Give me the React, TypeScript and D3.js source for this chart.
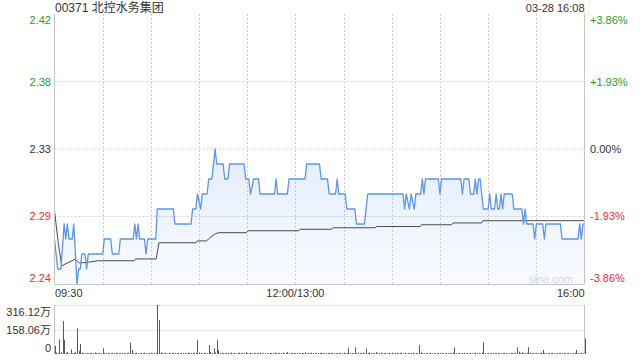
import React from "react";
import * as d3 from "d3";

const title = "00371 北控水务集团";
const stamp = "03-28 16:08";
const prevClose = 2.33;
const priceDomain = [2.24, 2.42];
const priceTickLabels = ["2.42", "2.38", "2.33", "2.29", "2.24"];
const pctTicks = [3.86, 1.93, 0, -1.93, -3.86];
const pctTickLabels = ["+3.86%", "+1.93%", "0.00%", "-1.93%", "-3.86%"];
const timeTicks = [0, 30, 60, 90, 120, 150, 180, 210, 240, 270, 300, 330];
const timeLabelMinutes = [0, 150, 330];
const timeLabels = ["09:30", "12:00/13:00", "16:00"];
const volMax = 316.12;
const volTickValues = [316.12, 158.06, 0];
const volTickLabels = ["316.12万", "158.06万", "0"];

// price line: minute index (0..330) and price
const priceMinutes = [
  0, 2, 4, 6, 7, 8, 9, 11, 12, 14, 15, 16, 17, 19, 20, 21, 30, 31, 35, 36, 40, 41,
  49, 50, 51, 52, 53, 56, 57, 58, 63, 64, 74, 75, 85, 86, 88, 89, 91, 92, 95, 96,
  98, 100, 101, 105, 106, 108, 109, 118, 119, 121, 122, 124, 127, 128, 137, 138,
  139, 145, 146, 156, 157, 165, 166, 170, 171, 175, 176, 177, 181, 182, 187, 188,
  193, 194, 195, 217, 218, 219, 221, 222, 224, 225, 228, 229, 230, 231, 239, 240,
  241, 253, 254, 255, 258, 259, 261, 262, 263, 264, 265, 267, 270, 271, 272, 274,
  275, 276, 277, 278, 279, 280, 285, 286, 291, 292, 293, 294, 298, 299, 300, 304,
  305, 306, 315, 316, 326, 327, 328, 329, 330,
];
const priceValues = [
  2.27, 2.25, 2.25, 2.28, 2.27, 2.28, 2.27, 2.27, 2.28, 2.24, 2.25, 2.25, 2.26, 2.26, 2.25, 2.26, 2.26, 2.27, 2.27, 2.26, 2.26, 2.27,
  2.27, 2.28, 2.27, 2.28, 2.27, 2.27, 2.26, 2.27, 2.27, 2.29, 2.29, 2.28, 2.28, 2.29, 2.29, 2.3, 2.29, 2.3, 2.3, 2.31,
  2.31, 2.33, 2.32, 2.32, 2.31, 2.31, 2.32, 2.32, 2.31, 2.31, 2.3, 2.31, 2.31, 2.3, 2.3, 2.31,
  2.3, 2.3, 2.31, 2.31, 2.32, 2.32, 2.31, 2.31, 2.3, 2.3, 2.31, 2.3, 2.3, 2.29, 2.29, 2.28,
  2.28, 2.29, 2.3, 2.3, 2.29, 2.3, 2.29, 2.3, 2.29, 2.3, 2.3, 2.31, 2.3, 2.31, 2.31, 2.3,
  2.31, 2.31, 2.3, 2.31, 2.31, 2.3, 2.3, 2.31, 2.3, 2.31, 2.31, 2.29, 2.29, 2.3, 2.29, 2.29,
  2.3, 2.29, 2.29, 2.3, 2.29, 2.3, 2.3, 2.29, 2.29, 2.28, 2.29, 2.28, 2.28, 2.27, 2.28, 2.28,
  2.27, 2.28, 2.28, 2.27, 2.27, 2.28, 2.27, 2.28, 2.28,
];

// average price line
const avgMinutes = [
  0, 2.4, 4.5, 7, 12.8, 15.5, 21, 27, 49.7, 50.5, 63.3, 65, 88, 89, 94.5, 96, 97.5,
  100, 102, 119.5, 120.5, 152, 153, 172.6, 173.5, 199.6, 200.5, 227.6, 228.5,
  247.3, 248.2, 265.8, 266.8, 330,
];
const avgValues = [
  2.289, 2.267, 2.252, 2.2535, 2.2565, 2.254, 2.2545, 2.2555, 2.2555, 2.2567, 2.2567, 2.2675, 2.2675, 2.2687, 2.2687, 2.27, 2.2715,
  2.2733, 2.2742, 2.2742, 2.2755, 2.2755, 2.2765, 2.2765, 2.2775, 2.2775, 2.2783, 2.2783, 2.2795,
  2.2795, 2.2807, 2.2807, 2.2822, 2.2822,
];

// per-minute volume, in 万
const volumes = [
  52, 10, 6, 95, 12, 213, 90, 8, 12, 5,
  30, 4, 6, 12, 166, 20, 65, 8, 6, 5,
  7, 4, 6, 8, 5, 9, 6, 4, 7, 5,
  37, 6, 5, 8, 4, 6, 7, 5, 9, 4,
  6, 5, 8, 6, 4, 7, 9, 73, 26, 5,
  6, 8, 4, 5, 7, 6, 9, 5, 4, 6,
  8, 5, 6, 4, 316.12, 219, 10, 6, 5, 8,
  4, 7, 6, 5, 9, 6, 4, 8, 5, 6,
  7, 4, 6, 9, 5, 6, 8, 4, 7, 90,
  10, 6, 5, 8, 6, 4, 58, 12, 7, 37,
  10, 90, 26, 6, 8, 5, 4, 7, 6, 5,
  9, 4, 6, 5, 7, 8, 4, 6, 5, 12,
  4, 6, 7, 5, 8, 4, 6, 5, 9, 6,
  4, 7, 5, 6, 8, 4, 6, 9, 5, 7,
  6, 4, 8, 5, 6, 12, 5, 4, 7, 6,
  5, 8, 4, 6, 7, 5, 12, 6, 4, 5,
  8, 6, 5, 7, 4, 6, 9, 5, 6, 4,
  7, 5, 8, 6, 4, 6, 5, 7, 4, 6,
  8, 5, 6, 37, 7, 4, 6, 43, 5, 8,
  6, 4, 7, 5, 35, 6, 9, 4, 5, 7,
  12, 6, 5, 8, 4, 6, 7, 5, 6, 4,
  8, 5, 6, 7, 4, 6, 9, 5, 6, 4,
  7, 5, 6, 8, 4, 6, 5, 58, 10, 6,
  5, 7, 4, 6, 8, 5, 6, 4, 7, 5,
  6, 8, 4, 5, 7, 6, 5, 4, 8, 43,
  6, 5, 7, 4, 6, 8, 5, 6, 4, 7,
  5, 6, 8, 4, 6, 5, 9, 75, 6, 5,
  7, 4, 6, 8, 5, 6, 4, 7, 5, 6,
  8, 5, 6, 4, 7, 6, 5, 8, 43, 15,
  6, 15, 5, 7, 6, 43, 8, 5, 6, 4,
  7, 6, 5, 8, 26, 6, 4, 7, 5, 6,
  8, 4, 6, 5, 7, 6, 4, 8, 5, 6,
  7, 5, 6, 4, 8, 26, 6, 5, 7, 5,
  101,
];

const FONT = "'Liberation Sans', Arial, 'Noto Sans CJK SC', sans-serif";
const GREEN = "#1c9e1c";
const RED = "#ee2b2b";
const DARK = "#333";
const GRID = "#cfcfcf";
const BORDER = "#c4c4c4";
const LINE = "#5b95ef";

export default function App() {
  const W = 640, H = 360;
  const L = 54.5, R = 584.5, T = 14, B = 284;
  const VT = 305, VB = 354;

  const x = d3.scaleLinear().domain([0, 330]).range([L, R]);
  const y = d3.scaleLinear().domain(priceDomain).range([B, T]);
  const v = d3.scaleLinear().domain([0, volMax]).range([VB, VT]);

  const pricePts = priceMinutes.map((m, i) => [m, priceValues[i]] as [number, number]);
  const avgPts = avgMinutes.map((m, i) => [m, avgValues[i]] as [number, number]);

  const line = d3.line<[number, number]>().x(d => x(d[0])).y(d => y(d[1]));
  const area = d3.area<[number, number]>().x(d => x(d[0])).y0(B).y1(d => y(d[1]));

  const pctY = pctTicks.map(p => y(prevClose * (1 + p / 100)));
  const labelColor = (i: number) => (pctTicks[i] > 0 ? GREEN : pctTicks[i] < 0 ? RED : DARK);
  const baseOff = (i: number, n: number) => (i === 0 ? 9.5 : i === n - 1 ? -2 : 4);

  return (
    <svg width={W} height={H} style={{ position: "absolute", left: 0, top: 0, display: "block", background: "#fff" }}
      fontFamily={FONT}>
      <defs>
        <linearGradient id="fillGrad" gradientUnits="userSpaceOnUse" x1="0" y1={y(2.33)} x2="0" y2={B}>
          <stop offset="0" stopColor={LINE} stopOpacity={0.17} />
          <stop offset="1" stopColor={LINE} stopOpacity={0.04} />
        </linearGradient>
      </defs>

      {/* title */}
      <text x={55} y={12} fontSize={12} fill={DARK}>{title}</text>
      <text x={R} y={12} fontSize={11} fill={DARK} textAnchor="end">{stamp}</text>

      {/* horizontal grid */}
      {pctY.slice(1, -1).map((gy, i) => (
        <line key={"h" + i} x1={L} x2={R} y1={gy} y2={gy} stroke={GRID} strokeDasharray="2,2" />
      ))}
      {/* vertical grid */}
      {timeTicks.slice(1, -1).map(t => (
        <line key={"v" + t} x1={Math.round(x(t)) + 0.5} x2={Math.round(x(t)) + 0.5} y1={T} y2={B}
          stroke={GRID} strokeDasharray="2,2" />
      ))}

      {/* area + lines */}
      <path d={area(pricePts) || ""} fill="url(#fillGrad)" />
      <text x={573} y={283} fontSize={11} fill="#d6d6d6" textAnchor="end">sina.com</text>
      <path d={line(avgPts) || ""} fill="none" stroke="#4a4a4a" strokeWidth={1} />
      <path d={line(pricePts) || ""} fill="none" stroke={LINE} strokeWidth={1.3} strokeLinejoin="round" />

      {/* borders */}
      <line x1={L} x2={L} y1={T} y2={B} stroke={BORDER} />
      <line x1={R} x2={R} y1={T} y2={B} stroke={BORDER} />
      <line x1={L} x2={R} y1={B + 0.5} y2={B + 0.5} stroke={BORDER} />

      {/* price labels */}
      {priceTickLabels.map((s, i) => (
        <text key={"pl" + i} x={51} y={pctY[i] + baseOff(i, priceTickLabels.length)} fontSize={11}
          fill={labelColor(i)} textAnchor="end">{s}</text>
      ))}
      {pctTickLabels.map((s, i) => (
        <text key={"pr" + i} x={590} y={pctY[i] + baseOff(i, pctTickLabels.length)} fontSize={11}
          fill={labelColor(i)}>{s}</text>
      ))}

      {/* time labels */}
      {timeLabels.map((s, i) => (
        <text key={"tl" + i} x={i === 0 ? L + 0.5 : i === timeLabels.length - 1 ? R : x(timeLabelMinutes[i])} y={297}
          fontSize={11} fill={DARK}
          textAnchor={i === 0 ? "start" : i === timeLabels.length - 1 ? "end" : "middle"}>{s}</text>
      ))}

      {/* volume panel */}
      {volTickValues.slice(0, 2).map((val, i) => (
        <line key={"vg" + i} x1={L} x2={R} y1={Math.round(v(val)) + 0.5} y2={Math.round(v(val)) + 0.5}
          stroke={GRID} strokeDasharray="2,2" />
      ))}
      {volumes.map((val, i) => {
        const bx = Math.round(x(i));
        const h = Math.max(0.8, VB - v(val));
        return <rect key={"vb" + i} x={bx} y={VB - h} width={1} height={h} fill="#5a5a5a" />;
      })}
      <line x1={L} x2={L} y1={VT} y2={VB} stroke={BORDER} />
      <line x1={R} x2={R} y1={VT} y2={VB} stroke={BORDER} />
      {volTickLabels.map((s, i) => (
        <text key={"vl" + i} x={51} y={v(volTickValues[i]) + (i === 0 ? 11 : i === 2 ? -2.5 : 4)}
          fontSize={11} fill={DARK} textAnchor="end">{s}</text>
      ))}
    </svg>
  );
}
